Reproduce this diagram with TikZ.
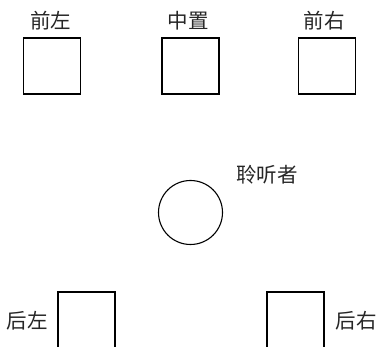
\documentclass[tikz,border=0pt]{standalone}
\usepackage{fontspec}
\newfontfamily\cjk{Noto Sans CJK SC}
\begin{document}
\begin{tikzpicture}[x=1pt,y=-1pt,
  spk/.style={draw=black,line width=1.1pt,minimum width=57pt,minimum height=56pt,inner sep=0pt,rectangle},
  lbl/.style={font=\cjk\fontsize{20.5}{22}\selectfont,inner sep=0pt,text=black!85}]
\clip (0,0) rectangle (378,347);
\fill[white] (0,0) rectangle (378,347);
\node[spk] (fl) at (52,66) {};
\node[spk] (c)  at (190.5,66) {};
\node[spk] (fr) at (327,66) {};
\node[spk,minimum height=60pt] (rl) at (86.5,322) {};
\node[spk,minimum height=60pt] (rr) at (295.5,322) {};
\node[draw=black,line width=1.1pt,circle,minimum size=64pt,inner sep=0pt] (l) at (190.5,212.5) {};
\node[lbl] (tfl) at (51,21) {前左};
\node[lbl] (tc)  at (188,21) {中置};
\node[lbl] (tfr) at (324,21) {前右};
\node[lbl] (tl)  at (267,175) {聆听者};
\node[lbl] (trl) at (27,321) {后左};
\node[lbl] (trr) at (356,321) {后右};
\end{tikzpicture}
\end{document}
